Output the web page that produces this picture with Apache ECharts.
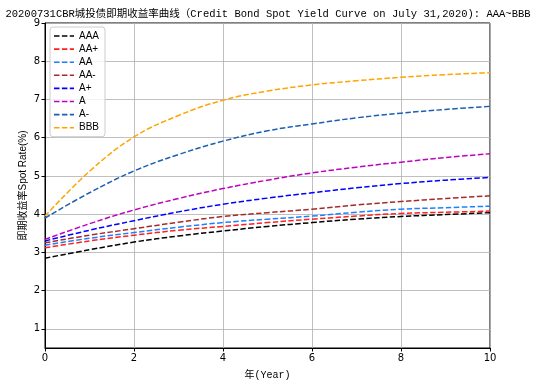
<!DOCTYPE html>
<html>
<head>
<meta charset="utf-8">
<script src="https://cdn.jsdelivr.net/npm/echarts@6/dist/echarts.min.js"></script>
<style>html,body{margin:0;padding:0;background:#fff}#c{width:536px;height:385px}</style>
</head>
<body>
<div id="c"></div>
<script>
const titleText = "20200731CBR城投债即期收益率曲线（Credit Bond Spot Yield Curve on July 31,2020): AAA~BBB";
const years = [0, 1, 2, 3, 4, 5, 6, 7, 8, 9, 10];
const ratings = ["AAA", "AA+", "AA", "AA-", "A+", "A", "A-", "BBB"];
const AAA  = [2.85, 3.07, 3.27, 3.43, 3.56, 3.68, 3.78, 3.87, 3.94, 3.99, 4.04];
const AAp  = [3.12, 3.30, 3.45, 3.58, 3.68, 3.78, 3.87, 3.95, 4.02, 4.05, 4.08];
const AA   = [3.19, 3.37, 3.52, 3.66, 3.78, 3.87, 3.95, 4.05, 4.13, 4.17, 4.21];
const AAm  = [3.25, 3.45, 3.62, 3.79, 3.94, 4.04, 4.13, 4.24, 4.33, 4.41, 4.48];
const Ap   = [3.30, 3.58, 3.83, 4.06, 4.26, 4.42, 4.56, 4.69, 4.80, 4.89, 4.96];
const A    = [3.34, 3.75, 4.11, 4.41, 4.67, 4.89, 5.08, 5.23, 5.36, 5.48, 5.58];
const Am   = [3.90, 4.56, 5.13, 5.56, 5.91, 6.18, 6.36, 6.52, 6.64, 6.74, 6.82];
const BBB  = [3.95, 5.12, 6.02, 6.58, 6.98, 7.22, 7.38, 7.49, 7.58, 7.65, 7.70];
const seriesValues = [AAA, AAp, AA, AAm, Ap, A, Am, BBB];
const colors = ["#000000", "#ff2020", "#1e80ff", "#a52a2a", "#0000ff", "#bf00bf", "#1c5fb0", "#ffa500"];
const yTicks = [1, 2, 3, 4, 5, 6, 7, 8, 9];

const font = "'Liberation Mono', 'Noto Sans CJK SC', monospace";
const dashIcon = 'path://M0,0H5.5V1.6H0Z M7.9,0H13.4V1.6H7.9Z M15.8,0H20V1.6H15.8Z';
const chart = echarts.init(document.getElementById('c'), null, {renderer: 'canvas'});
chart.setOption({
  animation: false,
  backgroundColor: '#fff',
  title: {
    text: titleText, left: 'center', top: 4,
    textStyle: {fontSize: 10.5, fontWeight: 'normal', color: '#000', fontFamily: font}
  },
  legend: {
    orient: 'vertical', left: 50, top: 27,
    data: ratings.map(n => ({name: n, icon: dashIcon})),
    symbolKeepAspect: true,
    itemWidth: 20, itemHeight: 10, itemGap: 3.1,
    padding: [4, 6, 4, 4],
    borderColor: '#cccccc', borderWidth: 1, borderRadius: 3,
    backgroundColor: 'rgba(255,255,255,0.8)',
    textStyle: {fontSize: 10, color: '#000', fontFamily: "'Liberation Sans', 'Noto Sans CJK SC', sans-serif"}
  },
  grid: {left: 45, right: 46, top: 23, bottom: 36, show: true, borderColor: '#000', borderWidth: 1, backgroundColor: 'transparent'},
  xAxis: {
    type: 'value', min: 0, max: 10, interval: 2,
    name: '年(Year)', nameLocation: 'middle', nameGap: 22,
    nameTextStyle: {fontSize: 10, color: '#000', fontFamily: font},
    axisLine: {show: true, lineStyle: {color: '#000'}},
    axisTick: {show: true, length: 3.5, inside: false, lineStyle: {color: '#000'}},
    axisLabel: {fontSize: 10, color: '#000', margin: 5, fontFamily: 'DejaVu Sans'},
    splitLine: {show: true, lineStyle: {color: '#b0b0b0', width: 0.8}}
  },
  yAxis: {
    type: 'value', min: 0.5, max: 9, interval: 1,
    name: '即期收益率Spot Rate(%)', nameLocation: 'middle', nameGap: 17, nameMoveOverlap: false,
    nameTextStyle: {fontSize: 10, color: '#000', fontFamily: "'Liberation Sans', 'Noto Sans CJK SC', sans-serif"},
    axisLine: {show: true, lineStyle: {color: '#000'}},
    axisTick: {show: true, length: 3.5, lineStyle: {color: '#000'}, customValues: yTicks},
    axisLabel: {fontSize: 10, color: '#000', margin: 5, fontFamily: 'DejaVu Sans', customValues: yTicks,
      formatter: v => Number.isInteger(v) ? String(v) : ''},
    splitLine: {show: true, lineStyle: {color: '#b0b0b0', width: 0.8}}
  },
  series: ratings.map((name, i) => ({
    name: name, type: 'line', smooth: 0.4, symbol: 'none',
    data: years.map((x, j) => [x, seriesValues[i][j]]),
    itemStyle: {color: colors[i]},
    lineStyle: {color: colors[i], width: 1.5, type: [5.5, 2.4]},
    z: 2
  }))
});
</script>
</body>
</html>
